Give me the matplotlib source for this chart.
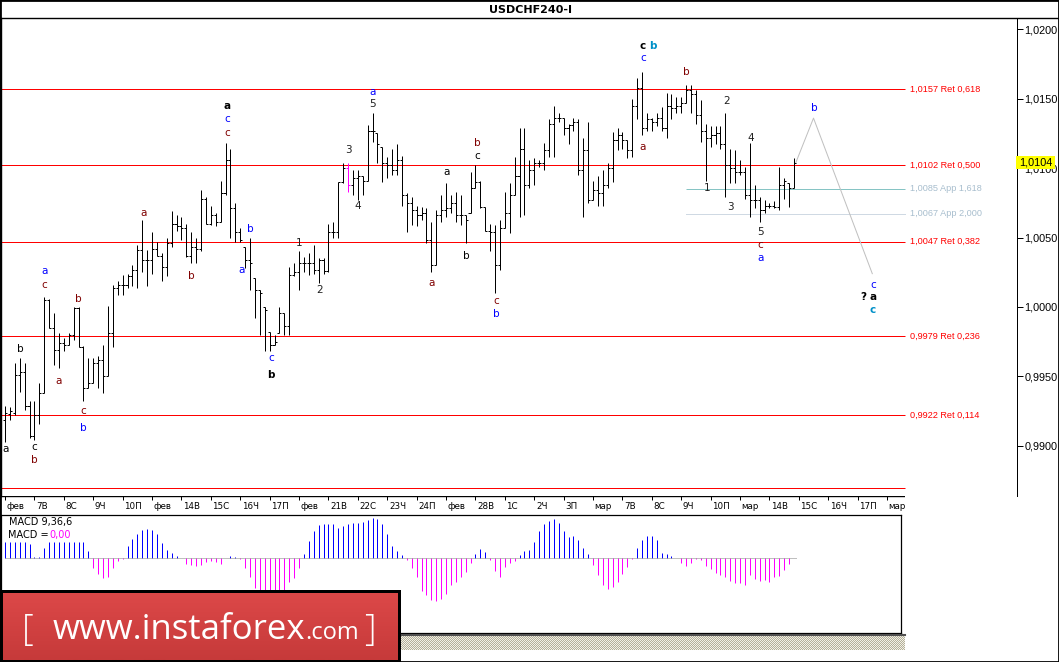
import numpy as np
import matplotlib
matplotlib.use("Agg")
import matplotlib.pyplot as plt
from matplotlib.collections import LineCollection
from matplotlib.patches import Rectangle
from matplotlib.lines import Line2D

plt.rcParams['font.family'] = ['DejaVu Sans']

# ---- USDCHF H4 bars ----
opens = [
    0.9919, 0.9923, 0.9924, 0.9951, 0.9953, 0.9929, 0.9907, 0.9922, 0.9938, 1.0005,
    0.9985, 0.9969, 0.9974, 0.9973, 0.9980, 0.9999, 0.9971, 0.9942, 0.9945, 0.9960,
    0.9962, 0.9950, 0.9981, 1.0014, 1.0016, 1.0016, 1.0022, 1.0027, 1.0041, 1.0034,
    1.0034, 1.0042, 1.0037, 1.0029, 1.0046, 1.0060, 1.0058, 1.0057, 1.0037, 1.0043,
    1.0042, 1.0078, 1.0060, 1.0066, 1.0061, 1.0082, 1.0106, 1.0071, 1.0054, 1.0043,
    1.0034, 1.0021, 1.0012, 1.0000, 0.9982, 0.9973, 0.9981, 0.9996, 0.9986, 1.0023,
    1.0025, 1.0032, 1.0032, 1.0032, 1.0027, 1.0034, 1.0026, 1.0054, 1.0054, 1.0090,
    1.0100, 1.0088, 1.0093, 1.0094, 1.0091, 1.0127, 1.0125, 1.0115, 1.0104, 1.0102,
    1.0099, 1.0106, 1.0081, 1.0075, 1.0070, 1.0066, 1.0068, 1.0048, 1.0030, 1.0066,
    1.0070, 1.0071, 1.0075, 1.0066, 1.0066, 1.0068, 1.0086, 1.0090, 1.0072, 1.0055,
    1.0054, 1.0030, 1.0057, 1.0068, 1.0081, 1.0094, 1.0114, 1.0088, 1.0099, 1.0104,
    1.0104, 1.0113, 1.0132, 1.0136, 1.0136, 1.0129, 1.0131, 1.0133, 1.0099, 1.0113,
    1.0077, 1.0084, 1.0082, 1.0088, 1.0100, 1.0120, 1.0124, 1.0120, 1.0113, 1.0145,
    1.0158, 1.0129, 1.0135, 1.0133, 1.0136, 1.0129, 1.0145, 1.0143, 1.0145, 1.0147,
    1.0156, 1.0153, 1.0138, 1.0127, 1.0122, 1.0124, 1.0125, 1.0117, 1.0102, 1.0100,
    1.0097, 1.0097, 1.0081, 1.0077, 1.0077, 1.0070, 1.0073, 1.0073, 1.0072, 1.0088,
    1.0089, 1.0086]
highs = [
    0.9929, 0.9928, 0.9960, 0.9963, 0.9960, 0.9932, 0.9932, 0.9945, 1.0007, 1.0006,
    0.9996, 0.9981, 0.9978, 0.9981, 1.0000, 1.0000, 0.9972, 0.9963, 0.9963, 0.9965,
    0.9973, 1.0001, 1.0016, 1.0019, 1.0023, 1.0024, 1.0030, 1.0045, 1.0063, 1.0041,
    1.0054, 1.0047, 1.0039, 1.0050, 1.0069, 1.0066, 1.0065, 1.0060, 1.0054, 1.0050,
    1.0084, 1.0079, 1.0073, 1.0068, 1.0091, 1.0118, 1.0114, 1.0075, 1.0057, 1.0043,
    1.0050, 1.0021, 1.0012, 1.0000, 0.9982, 0.9980, 1.0000, 0.9996, 1.0029, 1.0032,
    1.0040, 1.0036, 1.0039, 1.0045, 1.0035, 1.0035, 1.0060, 1.0061, 1.0090, 1.0104,
    1.0104, 1.0099, 1.0099, 1.0094, 1.0131, 1.0140, 1.0125, 1.0115, 1.0108, 1.0114,
    1.0117, 1.0109, 1.0082, 1.0079, 1.0073, 1.0072, 1.0071, 1.0061, 1.0070, 1.0081,
    1.0089, 1.0081, 1.0083, 1.0081, 1.0066, 1.0097, 1.0102, 1.0091, 1.0072, 1.0060,
    1.0059, 1.0063, 1.0083, 1.0089, 1.0108, 1.0129, 1.0129, 1.0106, 1.0107, 1.0106,
    1.0118, 1.0135, 1.0145, 1.0140, 1.0136, 1.0132, 1.0136, 1.0135, 1.0122, 1.0133,
    1.0091, 1.0094, 1.0099, 1.0104, 1.0126, 1.0129, 1.0126, 1.0120, 1.0150, 1.0165,
    1.0169, 1.0140, 1.0136, 1.0140, 1.0144, 1.0154, 1.0153, 1.0151, 1.0151, 1.0160,
    1.0160, 1.0156, 1.0149, 1.0132, 1.0130, 1.0130, 1.0130, 1.0140, 1.0114, 1.0113,
    1.0106, 1.0101, 1.0118, 1.0088, 1.0079, 1.0077, 1.0075, 1.0076, 1.0101, 1.0093,
    1.0089, 1.0107]
lows = [
    0.9903, 0.9919, 0.9922, 0.9939, 0.9926, 0.9906, 0.9904, 0.9916, 0.9938, 0.9985,
    0.9958, 0.9956, 0.9968, 0.9973, 0.9976, 0.9971, 0.9932, 0.9942, 0.9945, 0.9942,
    0.9938, 0.9950, 0.9971, 1.0009, 1.0009, 1.0014, 1.0015, 1.0014, 1.0025, 1.0015,
    1.0024, 1.0037, 1.0019, 1.0022, 1.0043, 1.0055, 1.0048, 1.0036, 1.0032, 1.0032,
    1.0040, 1.0060, 1.0059, 1.0058, 1.0061, 1.0081, 1.0050, 1.0047, 1.0047, 1.0028,
    1.0012, 0.9992, 0.9980, 0.9968, 0.9968, 0.9973, 0.9981, 0.9980, 0.9980, 1.0022,
    1.0012, 1.0025, 1.0023, 1.0024, 1.0017, 1.0024, 1.0025, 1.0050, 1.0050, 1.0089,
    1.0083, 1.0081, 1.0077, 1.0081, 1.0091, 1.0119, 1.0104, 1.0090, 1.0093, 1.0095,
    1.0095, 1.0073, 1.0054, 1.0059, 1.0058, 1.0063, 1.0046, 1.0025, 1.0030, 1.0061,
    1.0065, 1.0068, 1.0061, 1.0059, 1.0046, 1.0068, 1.0086, 1.0071, 1.0055, 1.0040,
    1.0010, 1.0027, 1.0057, 1.0053, 1.0081, 1.0065, 1.0066, 1.0086, 1.0088, 1.0101,
    1.0099, 1.0108, 1.0108, 1.0133, 1.0124, 1.0117, 1.0127, 1.0095, 1.0065, 1.0075,
    1.0077, 1.0073, 1.0073, 1.0086, 1.0090, 1.0113, 1.0114, 1.0107, 1.0108, 1.0135,
    1.0124, 1.0127, 1.0127, 1.0130, 1.0127, 1.0122, 1.0135, 1.0140, 1.0140, 1.0147,
    1.0140, 1.0132, 1.0119, 1.0091, 1.0115, 1.0117, 1.0114, 1.0079, 1.0089, 1.0089,
    1.0095, 1.0078, 1.0065, 1.0071, 1.0061, 1.0068, 1.0071, 1.0071, 1.0070, 1.0078,
    1.0072, 1.0086]
closes = [
    0.9924, 0.9925, 0.9951, 0.9953, 0.9929, 0.9907, 0.9922, 0.9938, 1.0005, 0.9985,
    0.9969, 0.9974, 0.9973, 0.9980, 0.9999, 0.9971, 0.9942, 0.9945, 0.9960, 0.9962,
    0.9950, 0.9981, 1.0014, 1.0016, 1.0016, 1.0022, 1.0027, 1.0041, 1.0034, 1.0034,
    1.0042, 1.0037, 1.0029, 1.0046, 1.0060, 1.0058, 1.0057, 1.0037, 1.0043, 1.0042,
    1.0078, 1.0060, 1.0066, 1.0061, 1.0082, 1.0106, 1.0071, 1.0054, 1.0048, 1.0034,
    1.0032, 1.0012, 1.0010, 0.9998, 0.9973, 0.9975, 0.9996, 0.9986, 1.0023, 1.0025,
    1.0032, 1.0032, 1.0032, 1.0027, 1.0034, 1.0026, 1.0054, 1.0054, 1.0090, 1.0100,
    1.0088, 1.0093, 1.0094, 1.0091, 1.0127, 1.0127, 1.0117, 1.0104, 1.0102, 1.0099,
    1.0106, 1.0081, 1.0075, 1.0070, 1.0066, 1.0068, 1.0048, 1.0030, 1.0066, 1.0070,
    1.0071, 1.0075, 1.0066, 1.0066, 1.0063, 1.0086, 1.0090, 1.0072, 1.0055, 1.0054,
    1.0030, 1.0057, 1.0068, 1.0081, 1.0094, 1.0114, 1.0088, 1.0099, 1.0104, 1.0104,
    1.0113, 1.0132, 1.0136, 1.0136, 1.0129, 1.0131, 1.0133, 1.0099, 1.0113, 1.0077,
    1.0084, 1.0082, 1.0088, 1.0100, 1.0120, 1.0124, 1.0120, 1.0113, 1.0145, 1.0158,
    1.0129, 1.0135, 1.0133, 1.0136, 1.0129, 1.0145, 1.0143, 1.0145, 1.0147, 1.0156,
    1.0153, 1.0138, 1.0127, 1.0122, 1.0124, 1.0125, 1.0117, 1.0102, 1.0100, 1.0097,
    1.0097, 1.0081, 1.0077, 1.0077, 1.0070, 1.0073, 1.0073, 1.0072, 1.0088, 1.0091,
    1.0086, 1.0104]
highlight_bar = 70  # the magenta bar

# MACD(9,36,6) histogram, in units of 1e-5
macd_hist = [
    16, 16, 16, 16, 16, 14, 1, 1, 10, 16,
    16, 16, 16, 16, 16, 16, 16, 7, -10, -16,
    -20, -19, -10, -3, -1, 12, 19, 24, 28, 29,
    28, 24, 15, 8, 5, 2, 0, -6, -7, -8,
    -7, -4, -3, -4, -6, 0, 2, 1, -1, -10,
    -19, -30, -38, -42, -45, -45, -42, -36, -24, -20,
    -10, 4, 17, 27, 33, 34, 34, 34, 30, 32,
    34, 35, 35, 36, 38, 40, 39, 34, 24, 12,
    7, 3, -2, -10, -19, -33, -37, -42, -43, -41,
    -36, -27, -24, -19, -14, -5, 4, 9, 6, -2,
    -13, -19, -9, -5, -3, 3, 7, 8, 16, 27,
    34, 37, 39, 35, 27, 21, 22, 18, 10, 4,
    -7, -17, -27, -31, -29, -24, -16, -9, -1, 10,
    18, 22, 22, 18, 5, 4, 2, 0, -5, -8,
    -5, -1, -2, -8, -11, -15, -17, -19, -23, -25,
    -25, -27, -17, -21, -23, -22, -24, -19, -18, -12,
    -6, 0]

day_labels = ["фев", "7В", "8С", "9Ч", "10П", "фев", "14В", "15С", "16Ч", "17П",
              "фев", "21В", "22С", "23Ч", "24П", "фев", "28В", "1С", "2Ч", "3П",
              "мар", "7В", "8С", "9Ч", "10П", "мар", "14В", "15С", "16Ч", "17П", "мар"]
bars_per_day = 6

ret_levels = [1.0157, 1.0102, 1.0047, 0.9979, 0.9922, 0.9870]
ret_texts = ["1,0157 Ret 0,618", "1,0102 Ret 0,500", "1,0047 Ret 0,382",
             "0,9979 Ret 0,236", "0,9922 Ret 0,114", ""]
app_levels = [1.0085, 1.0067]
app_texts = ["1,0085 App 1,618", "1,0067 App 2,000"]
app_start_bar = 139

proj_bars = [161.4, 165.0, 177.0]
proj_prices = [1.0104, 1.0136, 1.0024]

price_ticks = [0.9900, 0.9950, 1.0000, 1.0050, 1.0100, 1.0150, 1.0200]
last_price = 1.0104

DR, BL, BK, CY, NUM = "#800000", "#0000ff", "#000000", "#0090c8", "#202020"
wave_labels = [
    ("a", 0.2, 0.9898, BK, False), ("b", 3.1, 0.9970, BK, False),
    ("c", 5.9, 0.9899, BK, False), ("b", 5.9, 0.9890, DR, False),
    ("a", 8.0, 1.0026, BL, False), ("c", 8.0, 1.0016, DR, False),
    ("a", 11.0, 0.9947, DR, False), ("b", 14.9, 1.0006, DR, False),
    ("c", 15.9, 0.9925, DR, False), ("b", 15.9, 0.9913, BL, False),
    ("a", 28.2, 1.0068, DR, False), ("b", 38.0, 1.0022, DR, False),
    ("a", 45.3, 1.0145, BK, True), ("c", 45.3, 1.0135, BL, False),
    ("c", 45.3, 1.0125, DR, False), ("b", 50.0, 1.0056, BL, False),
    ("a", 48.2, 1.0027, BL, False), ("c", 54.3, 0.9963, BL, False),
    ("b", 54.3, 0.9951, BK, True), ("1", 60.0, 1.0046, NUM, False),
    ("2", 64.1, 1.0012, NUM, False), ("3", 70.0, 1.0113, NUM, False),
    ("4", 72.0, 1.0073, NUM, False), ("a", 75.1, 1.0155, BL, False),
    ("5", 75.1, 1.0146, NUM, False), ("a", 90.2, 1.0097, BK, False),
    ("b", 96.3, 1.0118, DR, False), ("c", 96.3, 1.0109, BK, False),
    ("a", 87.1, 1.0017, DR, False), ("b", 94.1, 1.0037, BK, False),
    ("c", 100.2, 1.0004, DR, False), ("b", 100.2, 0.9995, BL, False),
    ("c", 130.2, 1.0188, BK, True), ("b", 132.3, 1.0188, CY, True),
    ("c", 130.2, 1.0179, BL, False), ("a", 130.2, 1.0115, DR, False),
    ("b", 139.0, 1.0169, DR, False), ("2", 147.3, 1.0148, NUM, False),
    ("1", 143.3, 1.0086, NUM, False), ("4", 152.2, 1.0122, NUM, False),
    ("3", 148.0, 1.0072, NUM, False), ("5", 154.1, 1.0054, NUM, False),
    ("c", 154.1, 1.0045, DR, False), ("a", 154.1, 1.0035, BL, False),
    ("b", 165.1, 1.0143, BL, False), ("c", 177.1, 1.0016, BL, False),
    ("?", 175.1, 1.0007, BK, True), ("a", 177.1, 1.0007, BK, True),
    ("c", 177.1, 0.9998, CY, True),
]

# ---- layout (pixel based, 1059x662) ----
W, H = 1059, 662
BAR_PX, BAR0_PX = 4.9, 5.0
LW = 0.72  # one pixel
fig = plt.figure(figsize=(W / 100, H / 100), dpi=100)
fig.patch.set_facecolor("white")


def add_ax(x0, y0, x1, y1):
    return fig.add_axes([x0 / W, 1 - y1 / H, (x1 - x0) / W, (y1 - y0) / H])


def bar_lim(px0, px1):
    return ((px0 - BAR0_PX) / BAR_PX, (px1 - BAR0_PX) / BAR_PX)


def fx(x):
    return x / W


def fy(y):
    return 1 - y / H


# main price chart
ax = add_ax(1, 18, 1017, 496)
ax.set_xlim(*bar_lim(1, 1017))
ax.set_ylim(0.986392, 1.020808)
ax.set_facecolor("white")

n = len(closes)
segs, cols = [], []
for i in range(n):
    c = "#ff00ff" if i == highlight_bar else "black"
    segs += [[(i, lows[i]), (i, highs[i])],
             [(i - 0.42, opens[i]), (i, opens[i])],
             [(i, closes[i]), (i + 0.42, closes[i])]]
    cols += [c, c, c]
ax.add_collection(LineCollection(segs, colors=cols, linewidths=LW, snap=True, zorder=3))

x_line_end = bar_lim(0, 905)[1]
ax.hlines(ret_levels, bar_lim(0, 0)[0], x_line_end, colors="#ff0000", linewidth=LW, snap=True, zorder=2)
for lvl, txt in zip(ret_levels, ret_texts):
    ax.text(bar_lim(910, 910)[0], lvl, txt, color="#ff0000", fontsize=6.6,
            family="Liberation Sans", va="center", ha="left")
ax.hlines(app_levels[0], app_start_bar, x_line_end, colors="#86c4c4", linewidth=LW, snap=True)
ax.hlines(app_levels[1], app_start_bar, x_line_end, colors="#a0b4c8", linewidth=LW,
          linestyles=(0, (1, 1)), snap=True)
for lvl, txt in zip(app_levels, app_texts):
    ax.text(bar_lim(910, 910)[0], lvl, txt, color="#a8bece", fontsize=6.6,
            family="Liberation Sans", va="center", ha="left")

ax.plot(proj_bars, proj_prices, color="#c0c0c0", linewidth=LW, zorder=2)

for s, xb, yp, c, bold in wave_labels:
    ax.text(xb, yp, s, color=c, fontsize=7.5, ha="center", va="center",
            fontweight="bold" if bold else "normal", zorder=4)

ax.set_xticks([])
ax.yaxis.tick_right()
ax.set_yticks(price_ticks)
ax.set_yticklabels([f"{v:.4f}".replace(".", ",") for v in price_ticks],
                   family="Liberation Sans", fontsize=7.8)
ax.tick_params(axis="y", direction="out", length=4, width=LW, pad=1.5)
for side in ("top", "bottom"):
    ax.spines[side].set_visible(False)
ax.spines["left"].set_linewidth(1.0)
ax.spines["right"].set_linewidth(LW)

# current price box
fig.add_artist(Rectangle((fx(1016), fy(169)), 39 / W, 13 / H, transform=fig.transFigure,
                         facecolor="#ffff00", edgecolor="none", zorder=5))
fig.text(fx(1019), fy(162.5), f"{last_price:.4f}".replace(".", ","), fontsize=7.8,
         family="Liberation Sans", va="center", ha="left", zorder=6)

# time axis
tax = add_ax(1, 496, 905, 514)
tax.set_xlim(*bar_lim(1, 905))
tax.set_ylim(0, 1)
tax.axis("off")
tax.axhline(1, color="black", linewidth=1.0)
day_pos = np.arange(len(day_labels)) * bars_per_day
tax.vlines(day_pos, 0.76, 1, colors="black", linewidth=LW, snap=True)
for d, lab in zip(day_pos, day_labels):
    tax.text(d + 0.35, 0.44, lab, fontsize=6.3, va="center", ha="left", clip_on=True)

# MACD panel
mx = add_ax(1, 515, 901, 633)
mx.set_xlim(*bar_lim(1, 901))
mx.set_ylim(-75, 43)
mh = np.array(macd_hist)
bx = np.arange(len(mh))
mx.vlines(bx[mh > 0], 0, mh[mh > 0], colors="#0000ff", linewidth=LW, snap=True)
mx.vlines(bx[mh < 0], mh[mh < 0], 0, colors="#ff00ff", linewidth=LW, snap=True)
mx.hlines(0, 0, len(mh) - 0.5, colors="#808080", linewidth=LW, linestyles=(0, (1, 1)))
mx.set_xticks([])
mx.set_yticks([])
for sp in mx.spines.values():
    sp.set_linewidth(0.9)
fig.text(fx(9), fy(522), "MACD 9,36,6", fontsize=7, va="center", ha="left")
fig.text(fx(8), fy(535), "MACD =", fontsize=7, va="center", ha="left")
fig.text(fx(49), fy(535), "0,00", fontsize=7, va="center", ha="left", color="#ff00ff")

# scrollbar strip under the indicator window
sax = add_ax(0, 636, 905, 650)
chk = (np.indices((14, 905)).sum(axis=0) % 2).astype(float)
sax.imshow(chk, cmap=matplotlib.colors.ListedColormap(["#f2f0e6", "#b4b09a"]),
           aspect="auto", interpolation="nearest")
sax.axis("off")
fig.add_artist(Line2D([0, fx(905)], [fy(635), fy(635)], color="#505050", linewidth=1.5))

# outer frame and title bar
fig.add_artist(Line2D([0, 1], [fy(18), fy(18)], color="black", linewidth=1.0))
fig.add_artist(Rectangle((0, 0), 1, 1, transform=fig.transFigure, fill=False,
                         edgecolor="black", linewidth=2))
fig.text(fx(530), fy(10), "USDCHF240-I", fontsize=8, fontweight="bold", ha="center", va="center")

# instaforex badge
fig.add_artist(Rectangle((0, 0), fx(401), 1 - fy(72), transform=fig.transFigure,
                         facecolor="black", edgecolor="none", zorder=7))
lax = add_ax(3, 593, 398, 660)
grad = np.linspace(0, 1, 64).reshape(-1, 1)
lax.imshow(grad, cmap=matplotlib.colors.LinearSegmentedColormap.from_list("r", ["#dc4848", "#c63a3a"]),
           aspect="auto", extent=(0, 1, 0, 1))
lax.axis("off")
lax.set_zorder(8)
fig.text(fx(22), fy(640), "[", color="white", fontsize=26, family="Open Sans",
         fontweight="light", va="baseline", ha="left", zorder=9)
t_main = fig.text(fx(53), fy(639), "www.instaforex", color="white", fontsize=25,
                  family="Open Sans", va="baseline", ha="left", zorder=9)
fig.canvas.draw()
bb = t_main.get_window_extent()
fig.text(bb.x1 / W, fy(639), ".com", color="white", fontsize=17, family="Open Sans",
         va="baseline", ha="left", zorder=9)
fig.text(fx(364), fy(640), "]", color="white", fontsize=26, family="Open Sans",
         fontweight="light", va="baseline", ha="left", zorder=9)

fig.savefig("out.png", dpi=100)
